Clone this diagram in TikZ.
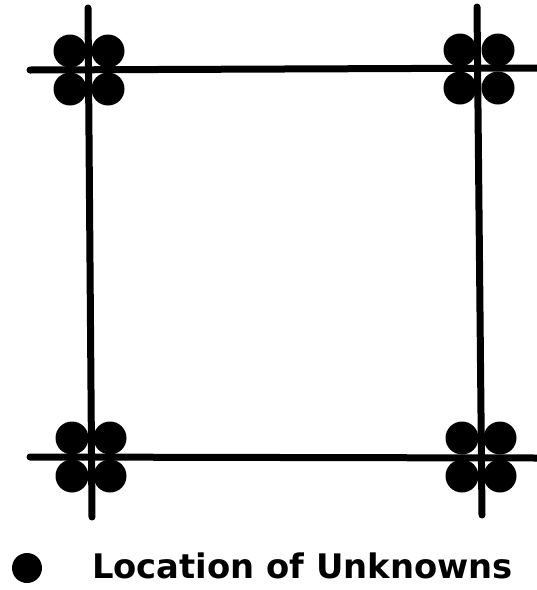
\documentclass[tikz,border=0pt]{standalone}
\usepackage{fontspec}
\setmainfont{DejaVu Sans}
\usetikzlibrary{positioning}

\begin{document}
\begin{tikzpicture}[
  x=1pt, y=-1pt,
  grid/.style  = {line width=7pt, line cap=round},
  unk/.style   = {circle, fill=black, inner sep=0pt, minimum size=33pt},
  key/.style   = {circle, fill=black, inner sep=0pt, minimum size=30pt},
  lbl/.style   = {font=\fontsize{33.8}{40}\selectfont\bfseries, inner sep=0pt, anchor=west},
]
\useasboundingbox (0,0) rectangle (537,590);

% ---------------- line ends --------------------------------------------
\coordinate (v1t) at (88,8);   \coordinate (v1b) at (92,517);
\coordinate (v2t) at (477,7);  \coordinate (v2b) at (482,515);
\coordinate (h1l) at (30,70);  \coordinate (h1r) at (537,68);
\coordinate (h2l) at (30,457); \coordinate (h2r) at (537,458);

% ---------------- unknowns round each crossing --------------------------
\foreach \nm/\cx/\cy in {tl/89/70, tr/479/69, bl/91/457, br/481/457}{
  \node[unk] (\nm-nw) at (\cx-19,\cy-19) {};
  \node[unk] (\nm-ne) at (\cx+19,\cy-19) {};
  \node[unk] (\nm-sw) at (\cx-19,\cy+19) {};
  \node[unk] (\nm-se) at (\cx+19,\cy+19) {};
}

% ---------------- grid lines --------------------------------------------
\draw[grid] (v1t) -- (v1b);
\draw[grid] (v2t) -- (v2b);
\draw[grid] (h1l) -- (h1r);
\draw[grid] (h2l) -- (h2r);

% ---------------- legend -------------------------------------------------
\node[key] (dot) at (27,568) {};
\node[lbl] (txt) at (92,566) {Location of Unknowns};

\end{tikzpicture}
\end{document}
